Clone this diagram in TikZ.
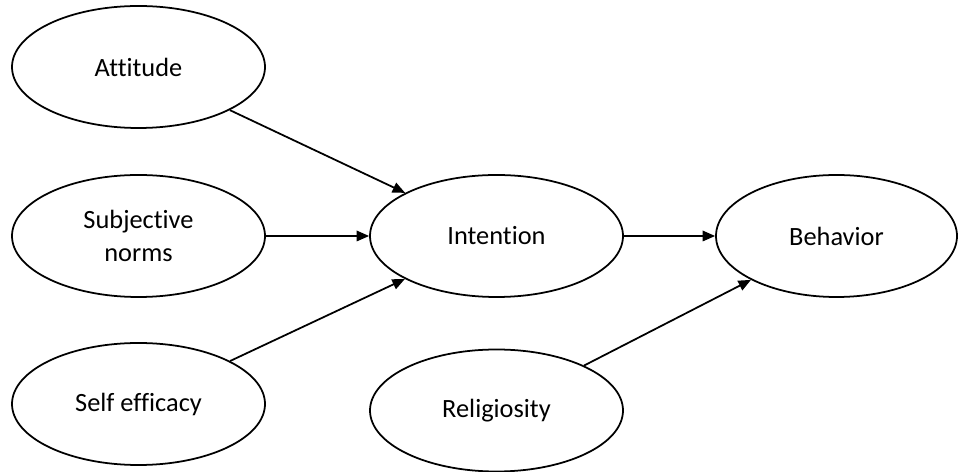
\documentclass[tikz,border=0pt]{standalone}
\usepackage{fontspec}
\setmainfont[Ligatures={NoCommon}]{Carlito}
\usetikzlibrary{shapes.geometric,arrows.meta}
\tikzset{
	konstrukt/.style={draw, ellipse, line width=1pt, minimum width=5.06cm, minimum height=2.44cm, align=center, inner sep=0pt},
	pfeil/.style={line width=1pt, -{Triangle[length=0.25cm,width=0.21cm]}}
}
\begin{document}
\begin{tikzpicture}[font=\fontsize{15}{19}\selectfont]
	\useasboundingbox (0,0) rectangle (19.16,9.44);
	% Ellipsen
	\node [konstrukt] (att) at (2.77,8.10) {Attitude};
	\node [konstrukt] (sn) at (2.77,4.72) {Subjective\\norms};
	\node [konstrukt] (se) at (2.77,1.36) {Self efficacy};
	\node [konstrukt] (int) at (9.93,4.72) {Intention};
	\node [konstrukt, minimum width=4.82cm] (beh) at (16.73,4.72) {Behavior};
	\node [konstrukt] (rel) at (9.93,1.23) {Religiosity};
	% Pfeile
	\draw [pfeil] (att) -- (int);
	\draw [pfeil] (sn) -- (int);
	\draw [pfeil] (se) -- (int);
	\draw [pfeil] (int) -- (beh);
	\draw [pfeil] (rel) -- (beh);
\end{tikzpicture}
\end{document}
